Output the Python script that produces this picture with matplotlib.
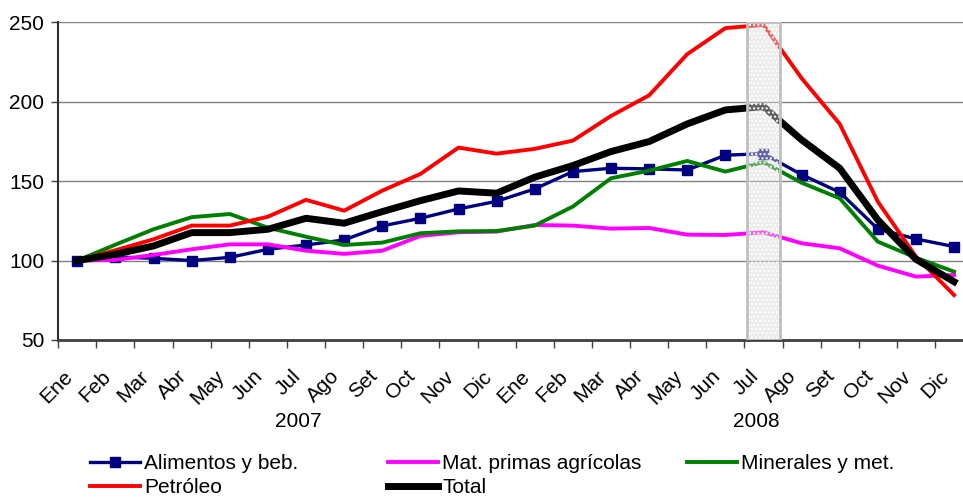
import numpy as np
import matplotlib
matplotlib.use('Agg')
import matplotlib.pyplot as plt
from matplotlib.patches import Rectangle
from matplotlib.transforms import ScaledTranslation

plt.rcParams['font.family'] = ['Liberation Sans', 'DejaVu Sans']

# ---------------------------------------------------------
# Data (indices, Ene 2007 = 100)
# ---------------------------------------------------------
months = ['Ene', 'Feb', 'Mar', 'Abr', 'May', 'Jun', 'Jul', 'Ago', 'Set', 'Oct', 'Nov', 'Dic'] * 2
years = ['2007', '2008']

alimentos = [100, 102.3, 101.4, 100, 102, 107.1, 109.8, 113, 121.8, 126.6, 132.5, 137.3,
             145.1, 156, 158.1, 157.7, 157, 166.3, 167.3, 154.1, 143, 119.9, 113.6, 108.8]
mat_primas = [100, 100.4, 103.5, 107.1, 110.2, 110.2, 106.2, 104.2, 106.2, 115.5, 117.8, 118.2,
              122.4, 122, 120.1, 120.5, 116.3, 116.1, 117.8, 110.9, 107.7, 96.8, 89.9, 90.9]
minerales = [100, 110, 119.7, 127.3, 129.3, 120.7, 115, 109.8, 111.3, 117.2, 118.4, 118.6,
             122, 134, 151.8, 156.6, 162.7, 156, 161.9, 149, 139.2, 111.9, 101.8, 93]
petroleo = [100, 106.5, 113.4, 122, 122, 127.6, 138.2, 131.4, 144, 154.5, 171.1, 167.3,
            170.3, 175.5, 191, 204, 229.9, 246.3, 248.4, 214.8, 186, 137.1, 102.5, 78.3]
total = [100, 104, 109.2, 117.6, 117.6, 119.7, 126.6, 123.5, 130.8, 137.7, 143.8, 142.4,
         152.5, 159.8, 168.6, 174.9, 186, 194.8, 196.9, 176, 158.1, 125.6, 100.8, 86.7]

x = np.arange(len(months))
FS = 15

fig = plt.figure(figsize=(9.63, 4.98), dpi=100)
# plot area runs past the right edge of the picture, as in the original
ax = fig.add_axes([0.0605, 0.3173, 0.950, 0.638])

ax.plot(x, alimentos, color='#000080', lw=2.4, marker='s', ms=6.5, label='Alimentos y beb.', zorder=3)
ax.plot(x, mat_primas, color='#FF00FF', lw=2.8, label='Mat. primas agrícolas', zorder=3)
ax.plot(x, minerales, color='#008000', lw=2.8, label='Minerales y met.', zorder=3)
ax.plot(x, petroleo, color='#FF0000', lw=2.8, label='Petróleo', zorder=3)
ax.plot(x, total, color='black', lw=5, label='Total', zorder=3)

# highlighted month (Jul 2008)
ax.add_patch(Rectangle((17.58, 50), 0.86, 200, facecolor=(0.85, 0.85, 0.85, 0.45),
                       edgecolor='white', hatch='....', lw=0, zorder=5))
ax.add_patch(Rectangle((17.58, 50), 0.86, 200, fill=False, edgecolor='#c0c0c0', lw=2, zorder=6))

ax.set_xlim(-0.5, 23.5)
ax.set_ylim(50, 250)
ax.set_yticks([50, 100, 150, 200, 250])
ax.yaxis.grid(True, color='#808080', lw=1)
ax.set_axisbelow(True)

ax.set_xticks(np.arange(-0.5, 24, 1))
ax.set_xticklabels([])
ax.set_xticks(x, minor=True)
ax.set_xticklabels(months, minor=True, rotation=45, ha='right', va='center',
                   rotation_mode='anchor', fontsize=FS)
ax.tick_params(axis='x', which='minor', length=0, pad=24)
ax.tick_params(axis='x', which='major', length=6, width=1, color='#404040', direction='out')
ax.tick_params(axis='y', length=5, width=1, color='#404040', labelsize=FS, pad=5)
shift = ScaledTranslation(-0.08, 0, fig.dpi_scale_trans)
for lbl in ax.get_xticklabels(minor=True):
    lbl.set_transform(lbl.get_transform() + shift)

for s in ['top', 'right']:
    ax.spines[s].set_visible(False)
ax.spines['left'].set_color('#303030')
ax.spines['left'].set_linewidth(1.5)
ax.spines['bottom'].set_color('#404040')
ax.spines['bottom'].set_linewidth(2)

# year labels
for i, yr in enumerate(years):
    ax.text(i * 12 + 5.8, -0.255, yr, transform=ax.get_xaxis_transform(),
            ha='center', va='center', fontsize=FS)

# legend: three columns placed separately
handles, labels = ax.get_legend_handles_labels()
cols = [[0, 3], [1, 4], [2]]
col_x = [0.0935, 0.403, 0.713]
for cx, idx in zip(col_x, cols):
    fig.legend([handles[k] for k in idx], [labels[k] for k in idx],
               loc='upper left', bbox_to_anchor=(cx, 0.088),
               bbox_transform=fig.transFigure, frameon=False, fontsize=FS,
               handlelength=2.4, handletextpad=0.2, labelspacing=0.25,
               borderpad=0, borderaxespad=0)

fig.savefig('out.png', dpi=100)
